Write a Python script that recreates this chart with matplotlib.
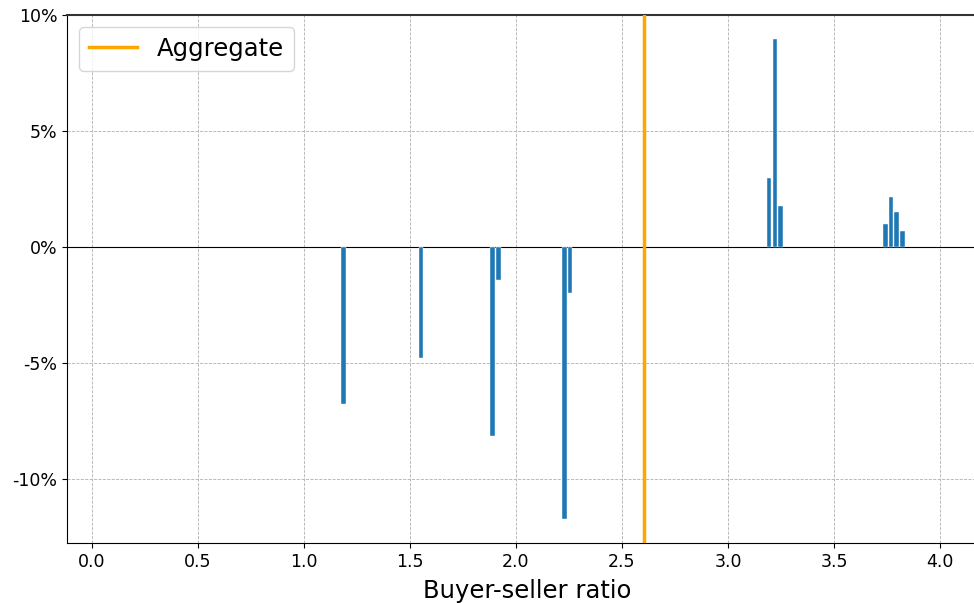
import numpy as np
import matplotlib.pyplot as plt
from matplotlib.ticker import FuncFormatter

# data
ratio = [1.185, 1.552, 1.890, 1.917, 2.228, 2.255,
         3.193, 3.222, 3.248, 3.744, 3.769, 3.795, 3.822]
change = [-6.78, -4.80, -8.13, -1.44, -11.71, -2.00,
          2.96, 8.97, 1.77, 0.99, 2.17, 1.50, 0.69]
aggregate = 2.604

fig = plt.figure(figsize=(9.74, 6.03), dpi=100, facecolor='white')
ax = fig.add_axes([67 / 974, 60 / 603, 920 / 974, 528 / 603])

ax.bar(ratio, np.array(change) / 100, width=0.022, color='#1f77b4',
       edgecolor='white', linewidth=0.3, zorder=3)
ax.axvline(aggregate, color='orange', lw=2.5, label='Aggregate', zorder=4)
ax.axhline(0, color='black', lw=0.8, zorder=2)

ax.set_xlim(-0.118, 4.222)
ax.set_ylim(-0.1276, 0.10)
ax.set_xticks(np.arange(0, 4.01, 0.5))
ax.set_yticks([-0.10, -0.05, 0, 0.05, 0.10])
ax.yaxis.set_major_formatter(FuncFormatter(lambda v, p: f"{v * 100:.0f}%".replace('−', '-')))
ax.tick_params(labelsize=12.5)
ax.grid(True, ls='--', lw=0.6, color='#b0b0b0', zorder=0)
ax.spines['top'].set_linewidth(1.5)
ax.spines['top'].set_color('#333333')

ax.set_xlabel("Buyer-seller ratio", fontsize=17.5, labelpad=6)
ax.legend(loc='upper left', fontsize=17.5)

fig.savefig("out.png", dpi=100)
